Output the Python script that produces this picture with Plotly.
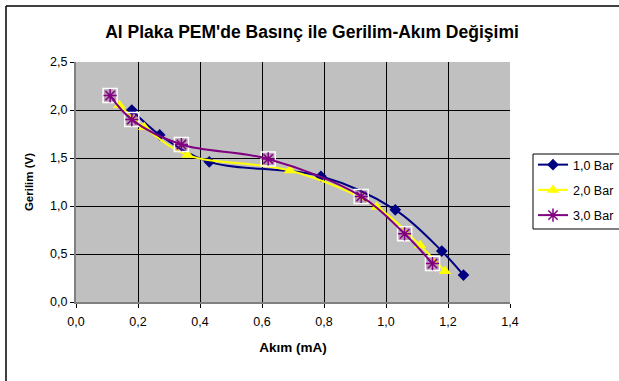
import plotly.graph_objects as go

# Data
bar1_x = [0.18, 0.27, 0.43, 0.79, 1.03, 1.18, 1.25]
bar1_y = [2.00, 1.74, 1.46, 1.31, 0.96, 0.53, 0.28]

bar2_x = [0.14, 0.22, 0.36, 0.69, 0.97, 1.11, 1.19]
bar2_y = [2.05, 1.82, 1.53, 1.37, 0.99, 0.59, 0.32]

bar3_x = [0.11, 0.18, 0.34, 0.62, 0.92, 1.06, 1.15]
bar3_y = [2.15, 1.90, 1.64, 1.49, 1.10, 0.71, 0.40]

series_names = ["1,0 Bar", "2,0 Bar", "3,0 Bar"]
title_text = "Al Plaka PEM'de Basınç ile Gerilim-Akım Değişimi"
x_title = "Akım (mA)"
y_title = "Gerilim (V)"

FONT = "Liberation Sans, Arial, sans-serif"
NAVY = "#000080"
YELLOW = "#FFFF00"
PURPLE = "#800080"
SMOOTH = 1.0

fig = go.Figure()

fig.add_trace(go.Scatter(
    x=bar1_x, y=bar1_y, name=series_names[0], mode="lines+markers",
    legendgroup="g1",
    line=dict(color=NAVY, width=2, shape="spline", smoothing=SMOOTH),
    marker=dict(symbol="diamond", size=9, color=NAVY),
))
fig.add_trace(go.Scatter(
    x=bar2_x, y=bar2_y, name=series_names[1], mode="lines+markers",
    legendgroup="g2",
    line=dict(color=YELLOW, width=2, shape="spline", smoothing=SMOOTH),
    marker=dict(symbol="triangle-up", size=11, color=YELLOW),
))
fig.add_trace(go.Scatter(
    x=bar3_x, y=bar3_y, name=series_names[2], mode="markers",
    legendgroup="g3",
    marker=dict(symbol="square", size=14, color="rgba(128,0,128,0.18)",
                line=dict(color="white", width=1.5)),
    showlegend=False, hoverinfo="skip",
))
fig.add_trace(go.Scatter(
    x=bar3_x, y=bar3_y, name=series_names[2], mode="lines+markers",
    legendgroup="g3",
    line=dict(color=PURPLE, width=2, shape="spline", smoothing=SMOOTH),
    marker=dict(symbol="asterisk", size=11, color=PURPLE,
                line=dict(color=PURPLE, width=1.5)),
))

W, H = 619, 381
L, R, T, B = 76, 109, 62, 79
pw = W - L - R
ph = H - T - B

def px_x(p):
    return (p - L) / pw

def px_y(p):
    return (H - B - p) / ph

fig.update_layout(
    width=W, height=H,
    margin=dict(l=L, r=R, t=T, b=B, pad=0, autoexpand=False),
    paper_bgcolor="white",
    plot_bgcolor="#C0C0C0",
    separators=", ",
    font=dict(family=FONT, size=12.5, color="black"),
    title=dict(text=title_text, x=312 / W, xanchor="center",
               y=1 - 32 / H, yanchor="middle", yref="container",
               font=dict(family=FONT, size=17.5, weight="bold", color="black")),
    xaxis=dict(range=[0, 1.4], dtick=0.2, tick0=0, tickformat=".1f",
               showgrid=True, gridcolor="black", gridwidth=1,
               showline=True, linecolor="#808080", linewidth=2,
               ticks="outside", ticklen=4, tickcolor="black",
               zeroline=False, mirror=False, ticklabelstandoff=3,
               automargin=False,
               tickfont=dict(family=FONT, size=12.5),
               title=dict(text=x_title, standoff=15,
                          font=dict(family=FONT, size=13.5, weight="bold"))),
    yaxis=dict(range=[0, 2.5], dtick=0.5, tick0=0, tickformat=".1f",
               showgrid=True, gridcolor="black", gridwidth=1,
               showline=True, linecolor="#808080", linewidth=2,
               ticks="outside", ticklen=4, tickcolor="black",
               zeroline=False, automargin=False,
               tickfont=dict(family=FONT, size=12.5),
               title=dict(text=y_title, standoff=14,
                          font=dict(family=FONT, size=11.5, weight="bold"))),
    legend=dict(x=px_x(533), y=px_y(150), xanchor="left", yanchor="top",
                bgcolor="rgba(0,0,0,0)", borderwidth=0,
                font=dict(family=FONT, size=12.5), tracegroupgap=6,
                itemwidth=30),
    showlegend=True,
    shapes=[
        # chart frame (left and top edges are visible in the reference)
        dict(type="line", xref="paper", yref="paper",
             x0=px_x(6), x1=px_x(6), y0=px_y(390), y1=px_y(6),
             line=dict(color="black", width=1.5)),
        dict(type="line", xref="paper", yref="paper",
             x0=px_x(6), x1=px_x(630), y0=px_y(6), y1=px_y(6),
             line=dict(color="black", width=1.5)),
        # legend box, running past the right edge as in the reference
        dict(type="rect", xref="paper", yref="paper",
             x0=px_x(533), x1=px_x(640), y0=px_y(229), y1=px_y(154),
             fillcolor="white", line=dict(color="black", width=1),
             layer="above"),
    ],
)

fig.write_html("out.html")
